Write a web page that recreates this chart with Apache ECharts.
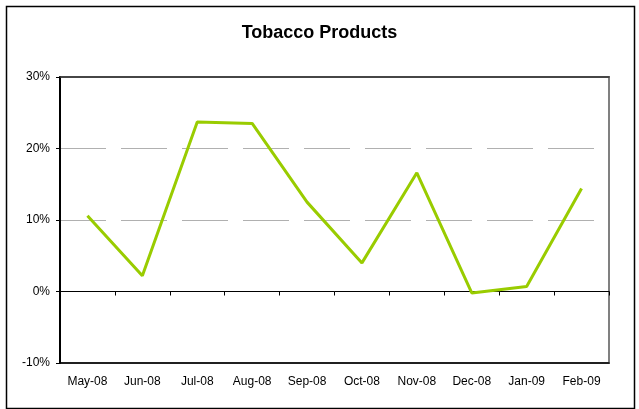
<!DOCTYPE html>
<html>
<head>
<meta charset="utf-8">
<script src="https://cdn.jsdelivr.net/npm/echarts@6/dist/echarts.min.js"></script>
<style>
html,body{margin:0;padding:0;background:#fff;}
#chart{width:639px;height:409px;}
</style>
</head>
<body>
<div id="chart"></div>
<script>
const categories = ["May-08","Jun-08","Jul-08","Aug-08","Sep-08","Oct-08","Nov-08","Dec-08","Jan-09","Feb-09"];
const tobaccoValues = [10.6, 2.2, 23.7, 23.5, 12.5, 4.0, 16.6, -0.2, 0.7, 14.4];
const yMin = -10, yMax = 30, yStep = 10;
const titleText = "Tobacco Products";

const chart = echarts.init(document.getElementById('chart'), null, {renderer:'canvas'});
const font = "'Liberation Sans', Arial, sans-serif";
chart.setOption({
  animation: false,
  backgroundColor: '#fff',
  title: {
    text: titleText, left: 'center', top: 19,
    textStyle: {fontFamily: font, fontSize: 18, fontWeight: 'bold', color: '#000'}
  },
  graphic: [{
    type: 'rect', left: 4, top: 4, shape: {width: 628, height: 402},
    style: {fill: 'none', stroke: '#000', lineWidth: 1.5}, z: 100
  }],
  grid: {
    left: 60, right: 30, top: 77, bottom: 46,
    show: true, borderColor: '#808080', borderWidth: 2, backgroundColor: '#fff'
  },
  xAxis: [{
    type: 'category', data: categories, position: 'bottom', boundaryGap: true,
    axisLine: {show: true, onZero: true, lineStyle: {color: '#000', width: 1}},
    axisTick: {show: true, length: 4, inside: false, lineStyle: {color: '#000'}},
    axisLabel: {show: false}, splitLine: {show: false}
  }, {
    type: 'category', data: categories, position: 'bottom', boundaryGap: true,
    axisLine: {show: true, onZero: false, lineStyle: {color: '#000', width: 1.5}},
    axisTick: {show: false},
    axisLabel: {show: true, margin: 13, fontFamily: font, fontSize: 12, color: '#000', interval: 0},
    splitLine: {show: false}
  }, {
    type: 'category', data: categories, position: 'top', boundaryGap: true,
    axisLine: {show: true, onZero: false, lineStyle: {color: '#333', width: 1.5}},
    axisTick: {show: false}, axisLabel: {show: false}, splitLine: {show: false}
  }],
  yAxis: {
    type: 'value', min: yMin, max: yMax, interval: yStep,
    axisLine: {show: true, onZero: false, lineStyle: {color: '#000', width: 2}},
    axisTick: {show: true, length: 4, lineStyle: {color: '#000'}},
    axisLabel: {formatter: '{value}%', fontFamily: font, fontSize: 12, color: '#000', margin: 10},
    splitLine: {show: true, showMaxLine: false, showMinLine: false, lineStyle: {color: '#b0b0b0', width: 1, type: [46, 15]}}
  },
  series: [{
    type: 'line', data: tobaccoValues, xAxisIndex: 0, symbol: 'none',
    lineStyle: {color: '#99cc00', width: 3}, itemStyle: {color: '#99cc00'}, z: 5
  }]
});
</script>
</body>
</html>
